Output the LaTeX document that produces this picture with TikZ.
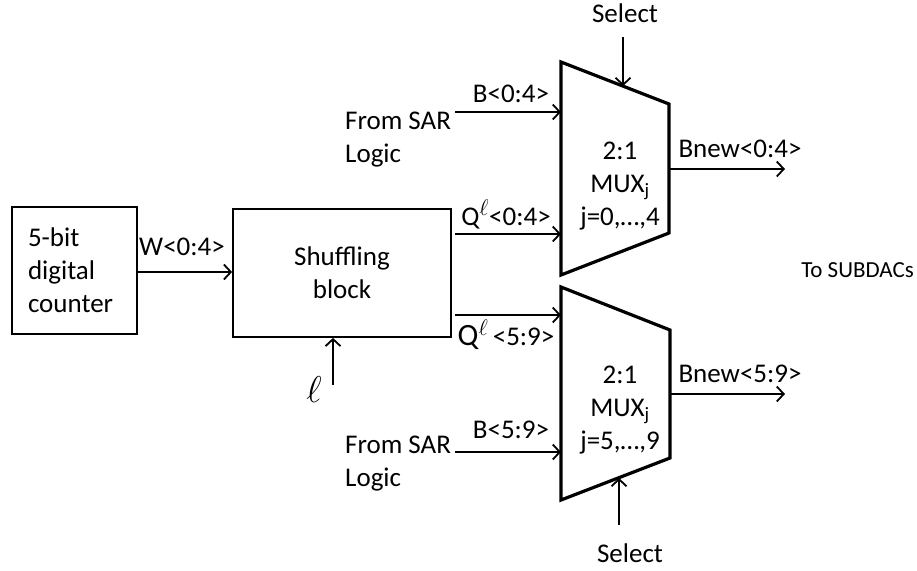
\documentclass[tikz,border=0pt]{standalone}
\usepackage{fontspec}
\usepackage{graphicx}
\setmainfont{Carlito}
\usetikzlibrary{arrows.meta,positioning}

\tikzset{
    blk/.style={draw, line width=1.8pt, inner sep=0pt, align=center},
    txt/.style={inner sep=0pt},
    sig/.style={line width=1.8pt, -{Straight Barb[length=7pt,width=15pt,line width=1.8pt]}},
    muxline/.style={line width=3.2pt, line join=miter}
}
\newcommand{\bigell}[1]{\scalebox{#1}{$\ell$}}

\begin{document}
\begin{tikzpicture}[x=1pt, y=-1pt, font=\fontsize{27pt}{33pt}\selectfont]
    \useasboundingbox (0,0) rectangle (917,570);

    % Counter and shuffling block
    \node[blk, minimum width=125pt, minimum height=127pt, align=left,
          text width=93pt] (cnt) at (74.5,270.5) {5-bit\\digital\\counter};
    \node[blk, minimum width=218pt, minimum height=128pt] (shf) at (342,273) {Shuffling\\block};

    \draw[sig] (cnt.east |- 0,272) -- (shf.west |- 0,272);
    \node[txt, anchor=base] (wlbl) at (182,255) {W<0:4>};

    % l input
    \coordinate (ellp) at (333,385);
    \draw[sig] (ellp) -- (ellp |- shf.south);
    \node[txt] (ell) at (314,390) {\bigell{1.5}};

    % Upper multiplexer
    \coordinate (ma1) at (561,62);
    \coordinate (ma2) at (669,104);
    \coordinate (ma3) at (669,233);
    \coordinate (ma4) at (561,275);
    \draw[muxline] (ma1) -- (ma2) -- (ma3) -- (ma4) -- cycle;
    \node[txt, align=center] (muxa) at (620,186) {2:1\\MUX\textsubscript{j}\\j=0,…,4};

    % Lower multiplexer
    \coordinate (mb1) at (561,287);
    \coordinate (mb2) at (670,330);
    \coordinate (mb3) at (670,458);
    \coordinate (mb4) at (561,500);
    \draw[muxline] (mb1) -- (mb2) -- (mb3) -- (mb4) -- cycle;
    \node[txt, align=center] (muxb) at (620,410) {2:1\\MUX\textsubscript{j}\\j=5,…,9};

    % SAR inputs
    \coordinate (sara) at (455,112);
    \coordinate (ina) at (561,112);
    \draw[sig] (sara) -- (ina);
    \node[txt, anchor=base] (blbla) at (511,102) {B<0:4>};
    \node[txt, anchor=north west, align=left] (fsara) at (345,112) {From SAR\\Logic};

    \coordinate (sarb) at (455,452);
    \coordinate (inb) at (561,452);
    \draw[sig] (sarb) -- (inb);
    \node[txt, anchor=base] (blblb) at (511,438) {B<5:9>};
    \node[txt, anchor=north west, align=left] (fsarb) at (345,436) {From SAR\\Logic};

    % Shuffled outputs
    \coordinate (qa) at (455,234);
    \draw[sig] (qa) -- (qa -| ma1);
    \node[txt, anchor=base] (qlbla) at (506,225) {Q\textsuperscript{\bigell{1.3}}<0:4>};
    \coordinate (qb) at (455,315);
    \draw[sig] (qb) -- (qb -| mb1);
    \node[txt, anchor=base] (qlblb) at (506,345) {{\fontsize{31pt}{33pt}\selectfont Q}\textsuperscript{\bigell{1.3}}\,<5:9>};

    % Select lines
    \coordinate (sta) at (623,37);
    \draw[sig] (sta) -- (623,86);
    \node[txt, anchor=base] (sela) at (625,22) {Select};
    \coordinate (stb) at (619,525);
    \draw[sig] (stb) -- (619,478);
    \node[txt, anchor=base] (selb) at (630,562) {Select};

    % Outputs
    \coordinate (oa) at (669,169);
    \coordinate (ea) at (785,169);
    \draw[sig] (oa) -- (ea);
    \node[txt, anchor=base] (bnla) at (740,157) {Bnew<0:4>};
    \coordinate (ob) at (670,394);
    \coordinate (eb) at (785,394);
    \draw[sig] (ob) -- (eb);
    \node[txt, anchor=base] (bnlb) at (740,382) {Bnew<5:9>};

    \node[txt, anchor=base east, font=\fontsize{23pt}{30pt}\selectfont] (sub) at (914,277) {To SUBDACs};
\end{tikzpicture}
\end{document}
